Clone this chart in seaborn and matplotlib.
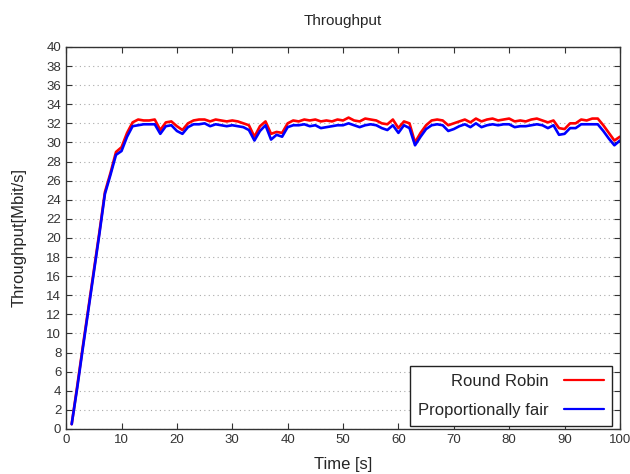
import matplotlib
matplotlib.use("Agg")
import matplotlib.pyplot as plt
import seaborn as sns
import pandas as pd

time_s = list(range(1, 101))
round_robin = [
    0.5, 4.5, 8.6, 12.6, 16.6, 20.6, 24.8, 26.8, 29.0, 29.5,
    31.0, 32.1, 32.4, 32.3, 32.3, 32.4, 31.3, 32.1, 32.2, 31.7,
    31.3, 32.0, 32.3, 32.4, 32.4, 32.2, 32.4, 32.3, 32.2, 32.3,
    32.2, 32.0, 31.8, 30.6, 31.7, 32.2, 30.9, 31.1, 31.0, 32.0,
    32.3, 32.2, 32.4, 32.3, 32.4, 32.2, 32.3, 32.2, 32.4, 32.3,
    32.6, 32.3, 32.2, 32.5, 32.4, 32.3, 32.0, 31.9, 32.4, 31.5,
    32.2, 32.0, 30.0, 31.0, 31.8, 32.3, 32.4, 32.3, 31.8, 32.0,
    32.2, 32.4, 32.1, 32.5, 32.2, 32.4, 32.5, 32.3, 32.4, 32.5,
    32.2, 32.3, 32.2, 32.4, 32.5, 32.3, 32.1, 32.3, 31.5, 31.4,
    32.0, 32.0, 32.4, 32.3, 32.5, 32.5, 31.8, 31.0, 30.2, 30.6,
]
prop_fair = [
    0.5, 4.3, 8.4, 12.4, 16.4, 20.4, 24.6, 26.6, 28.7, 29.1,
    30.6, 31.7, 31.8, 31.9, 31.9, 31.9, 30.9, 31.7, 31.8, 31.2,
    30.9, 31.6, 31.9, 31.9, 32.0, 31.7, 31.9, 31.8, 31.7, 31.8,
    31.7, 31.6, 31.3, 30.2, 31.2, 31.8, 30.3, 30.8, 30.6, 31.6,
    31.8, 31.8, 31.9, 31.7, 31.8, 31.5, 31.6, 31.7, 31.8, 31.8,
    32.0, 31.8, 31.6, 31.8, 31.9, 31.8, 31.5, 31.3, 31.8, 31.0,
    31.8, 31.5, 29.7, 30.6, 31.4, 31.8, 31.9, 31.8, 31.2, 31.4,
    31.7, 31.9, 31.6, 32.0, 31.6, 31.8, 31.9, 31.8, 31.9, 31.9,
    31.6, 31.7, 31.7, 31.8, 31.9, 31.8, 31.5, 31.8, 30.8, 30.9,
    31.5, 31.5, 31.9, 31.9, 31.9, 31.9, 31.2, 30.4, 29.7, 30.2,
]
series_names = ["Round Robin", "Proportionally fair"]
series_colors = ["#ff0000", "#0000ff"]
x_ticks = list(range(0, 101, 10))
y_ticks = list(range(0, 41, 2))

sns.set_style("ticks")
plt.rcParams["font.family"] = ["Liberation Sans", "DejaVu Sans"]

df = pd.DataFrame({
    "Time": time_s * 2,
    "Throughput": round_robin + prop_fair,
    "Series": [series_names[0]] * len(time_s) + [series_names[1]] * len(time_s),
})

fig = plt.figure(figsize=(6.3, 4.74), dpi=100)
ax = fig.add_axes([0.105, 0.095, 0.879, 0.806])

sns.lineplot(data=df, x="Time", y="Throughput", hue="Series",
             hue_order=series_names, palette=series_colors,
             linewidth=1.9, ax=ax, legend=False)

ax.set_xlim(0, 100)
ax.set_ylim(0, 40)
ax.set_xticks(x_ticks)
ax.set_yticks(y_ticks)
ax.yaxis.grid(True, linestyle=(0, (1, 3)), color="#aaaaaa", linewidth=0.8)
ax.xaxis.grid(False)
ax.tick_params(direction="in", top=True, right=True, length=4, width=0.8,
               colors="#333333", labelsize=9.5, labelcolor="#333333")
for sp in ax.spines.values():
    sp.set_visible(True)
    sp.set_color("#333333")
    sp.set_linewidth(1.0)

ax.set_title("Throughput", fontsize=11, pad=16)
ax.set_xlabel("Time [s]", fontsize=12, labelpad=8)
ax.set_ylabel("Throughput[Mbit/s]", fontsize=12, labelpad=14)

handles = ax.get_lines()[:2]
leg = ax.legend(handles, series_names, loc="lower right",
                bbox_to_anchor=(0.986, 0.008), borderaxespad=0,
                markerfirst=False, fontsize=12, frameon=True, fancybox=False,
                edgecolor="#222222", framealpha=1, handlelength=2.4,
                labelspacing=0.8, borderpad=0.5, handletextpad=0.9)
leg.get_frame().set_linewidth(1.0)
for line in leg.get_lines():
    line.set_linewidth(1.6)

fig.savefig("out.png", dpi=100)
